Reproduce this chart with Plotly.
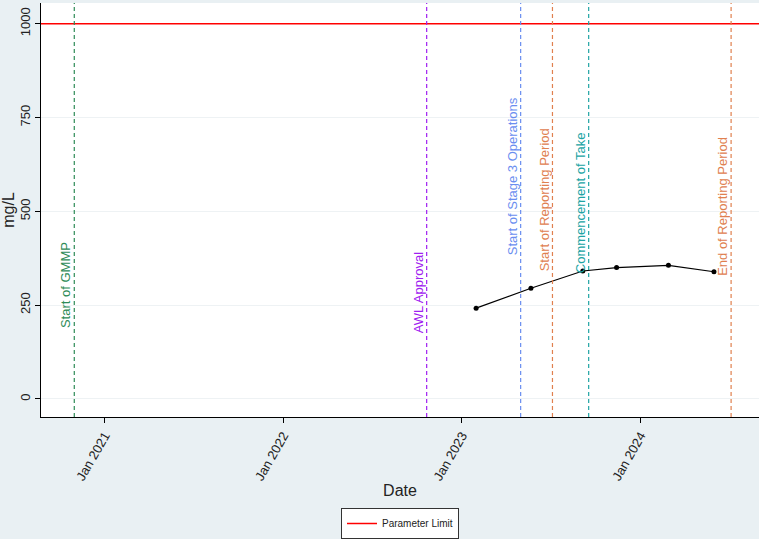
import plotly.graph_objects as go

# Sample results (mg/L)
sample_dates = ["2023-01-30", "2023-05-22", "2023-09-05", "2023-11-13", "2024-02-27", "2024-05-30"]
sample_values = [242, 295, 341, 350, 356, 339]

# Parameter limit
limit_value = 1000
limit_label = "Parameter Limit"

# Key project milestones
event_labels = ["Start of GMMP", "AWL Approval", "Start of Stage 3 Operations",
                "Start of Reporting Period", "Commencement of Take", "End of Reporting Period"]
event_dates = ["2020-10-31", "2022-10-21", "2023-05-01", "2023-07-05", "2023-09-17", "2024-07-04"]
event_colors = ["#2e8b57", "#a020f0", "#6a8ef0", "#e0804f", "#20a4a4", "#e0804f"]
event_label_base = [183, 170, 378, 336, 329, 323]

x_range = ["2020-08-24", "2024-08-30"]
y_range = [-48, 1055]
y_ticks = [0, 250, 500, 750, 1000]
x_ticks = ["2021-01-01", "2022-01-01", "2023-01-01", "2024-01-01"]
x_ticktext = ["Jan 2021", "Jan 2022", "Jan 2023", "Jan 2024"]

font_family = "Liberation Sans, Arial, sans-serif"

fig = go.Figure()

fig.add_trace(go.Scatter(
    x=x_range, y=[limit_value, limit_value], mode="lines",
    line=dict(color="#ff0000", width=1.5), name=limit_label, showlegend=True,
))

fig.add_trace(go.Scatter(
    x=sample_dates, y=sample_values, mode="lines+markers",
    line=dict(color="black", width=1.2), marker=dict(color="black", size=5),
    name="mg/L", showlegend=False,
))

for label, date, color, base in zip(event_labels, event_dates, event_colors, event_label_base):
    fig.add_shape(type="line", xref="x", yref="paper", x0=date, x1=date, y0=0, y1=1,
                  line=dict(color=color, width=1.2, dash="4px,3px"))
    fig.add_annotation(x=date, y=base, xref="x", yref="y", text=label, showarrow=False,
                       textangle=-90, xanchor="right", yanchor="bottom", xshift=1,
                       font=dict(family=font_family, size=13, color=color))

fig.update_layout(
    width=759, height=539,
    margin=dict(l=41, r=0, t=3, b=121),
    paper_bgcolor="#e9f0f3", plot_bgcolor="white",
    font=dict(family=font_family, color="#222"),
    showlegend=True,
    legend=dict(orientation="h", x=0.5, xanchor="center", y=-0.219, yanchor="top",
                bgcolor="white", bordercolor="#333", borderwidth=1,
                font=dict(size=10, color="#222")),
    xaxis=dict(range=x_range, tickvals=x_ticks, ticktext=x_ticktext, tickangle=-60,
               automargin=False,
               showgrid=False, zeroline=False, showline=True, linecolor="black", linewidth=1,
               ticks="outside", ticklen=5, tickcolor="black",
               tickfont=dict(size=13, color="#222"),
               title=dict(text="Date", font=dict(size=16, color="#222"), standoff=2)),
    yaxis=dict(range=y_range, tickvals=y_ticks, tickangle=-90, automargin=False,
               showgrid=True, gridcolor="#eef2f4", zeroline=False,
               showline=True, linecolor="black", linewidth=1,
               ticks="outside", ticklen=5, tickcolor="black",
               tickfont=dict(size=13, color="#222"),
               title=dict(text="mg/L", font=dict(size=16, color="#222"), standoff=2)),
)

fig.write_html("out.html")
